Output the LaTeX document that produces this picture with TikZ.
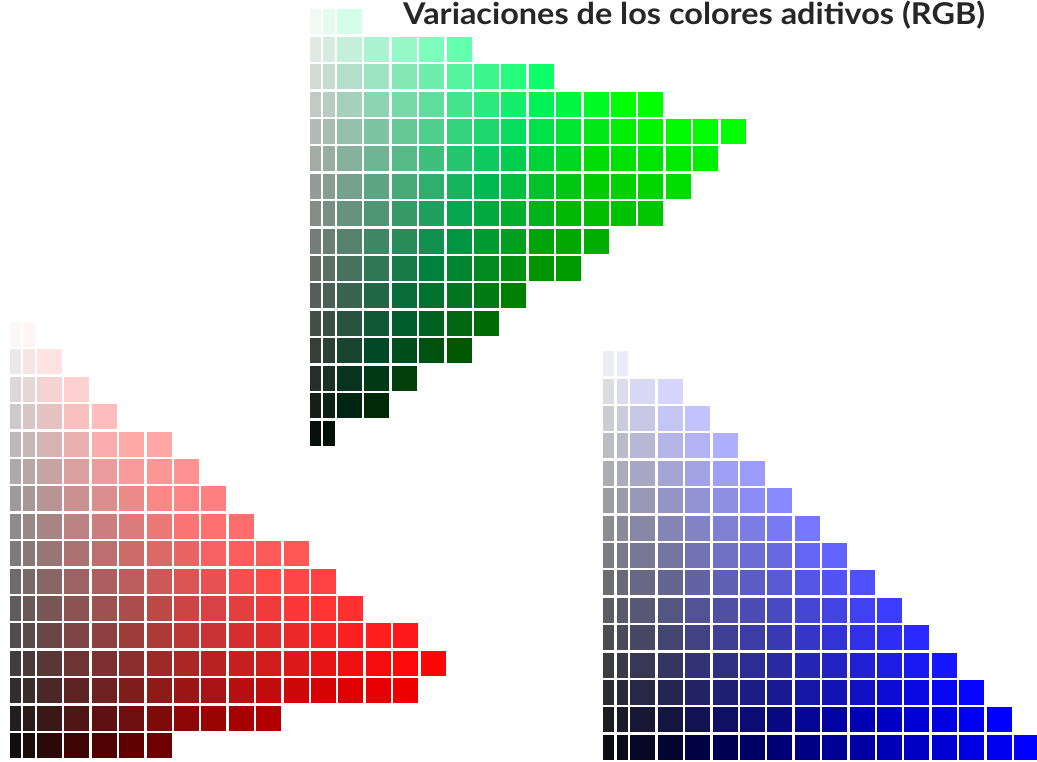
\documentclass[tikz,border=0pt]{standalone}
\usepackage{fontspec}
\setmainfont{Lato}
\newcommand\tripre{gr}
% una casilla: x, y, ancho (en u), croma
\newcommand\swatch[4]{%
  \pgfmathsetmacro\cR{\tripre R(\L,#4)}%
  \pgfmathsetmacro\cG{\tripre G(\L,#4)}%
  \pgfmathsetmacro\cB{\tripre B(\L,#4)}%
  \definecolor{swc}{rgb}{\cR,\cG,\cB}%
  \fill[swc] ({#1+gp},{#2+gp}) rectangle ({#1+#3*u-gp},{#2+u-gp});}
% una fila: x0, y, numero de columnas
\newcommand\fila[3]{%
  \swatch{#1}{#2}{0.5}{0.25/16}%
  \swatch{#1+0.5*u}{#2}{0.5}{0.75/16}%
  \ifnum#3>1 \foreach \c in {2,...,#3}{\swatch{#1+(\c-1)*u}{#2}{1}{(\c-0.5)/16}}\fi}
\begin{document}
\begin{tikzpicture}[x=1pt, y=-1pt,
	declare function={u=27.4; gp=1.2;
		cl(\z)=min(1,max(0,\z));
		grR(\s,\k)=cl(\s-1.5*\k);
		grG(\s,\k)=cl(\s+0.3*\k);
		grB(\s,\k)=cl(\s-(0.55+\k*\k)*\k);
		rdR(\s,\k)=cl(\s+0.78*\k+0.5*\k*(1-\k));
		rdG(\s,\k)=cl(\s-0.22*\k);
		rdB(\s,\k)=cl(\s-0.22*\k);
		buR(\s,\k)=cl(\s-0.19*\k);
		buG(\s,\k)=cl(\s-0.19*\k);
		buB(\s,\k)=cl(\s+\k);}]
	\useasboundingbox (0,0) rectangle (1037,762);
	% verde
	\renewcommand\tripre{gr}
	\foreach \w [count=\r] in {2,6,9,13,16,15,14,13,11,10,8,7,6,4,3,1}{
		\pgfmathsetmacro\L{0.97-(\r-1)*0.061}
		\fila{308.3}{8.3+(\r-1)*u}{\w}}
	% rojo
	\renewcommand\tripre{rd}
	\foreach \w [count=\r] in {1,2,3,4,6,7,8,9,11,12,13,15,16,15,10,6}{
		\pgfmathsetmacro\L{0.97-(\r-1)*0.061}
		\fila{8.3}{320.8+(\r-1)*u}{\w}}
	% azul
	\renewcommand\tripre{bu}
	\foreach \w [count=\r] in {1,3,4,5,6,7,8,9,10,11,12,13,14,15,16}{
		\pgfmathsetmacro\L{0.93-(\r-1)*0.063}
		\fila{601.7}{350+(\r-1)*u}{\w}}
	% titulo
	\node[anchor=base west, inner sep=0pt, text=black!85,
		font=\fontsize{30}{32}\selectfont\bfseries\addfontfeatures{FakeStretch=1.08}]
		(titulo) at (403,25) {Variaciones de los colores aditivos (RGB)};
\end{tikzpicture}
\end{document}
